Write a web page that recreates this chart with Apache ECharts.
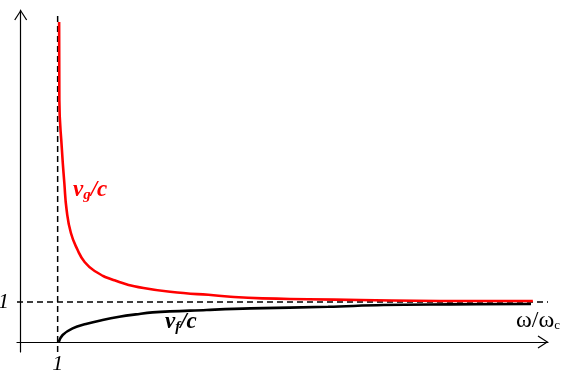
<!DOCTYPE html>
<html>
<head>
<meta charset="utf-8">
<script src="https://cdn.jsdelivr.net/npm/echarts@6/dist/echarts.min.js"></script>
<style>html,body{margin:0;padding:0;background:#fff;}#c{width:563px;height:371px;}</style>
</head>
<body>
<div id="c"></div>
<script>
// omega/omega_c (x) and velocity/c (y)
var redX = [1.04, 1.046, 1.116, 1.181, 1.243, 1.359, 1.541, 1.73, 2.0, 2.514, 3.324, 4.405, 5.08, 5.68, 6.54, 7.78, 9.19, 11.35, 13.86];
var redY = [8.0, 6.05, 4.8, 3.975, 3.3, 2.725, 2.3, 2.0, 1.775, 1.55, 1.35, 1.225, 1.18, 1.13, 1.09, 1.07, 1.05, 1.025, 1.025];
var blackX = [1.03, 1.135, 1.405, 1.765, 2.216, 2.668, 3.116, 3.568, 5.03, 6.22, 8.32, 9.81, 11.62, 13.81];
var blackY = [0.0, 0.175, 0.34, 0.45, 0.55, 0.63, 0.69, 0.74, 0.8, 0.84, 0.88, 0.925, 0.94, 0.95];
var xTicks = [1];
var yTicks = [1];
var refX = 1, refY = 1;
var xMin = -0.1, xMax = 14.27, yMin = -0.25, yMax = 8.3;

function zip(a, b) { return a.map(function (v, i) { return [v, b[i]]; }); }

var arrow = 'path://M6.5,0 L13,10 L11.9,10.7 L6.5,2.1 L1.1,10.7 L0,10 Z';
var labelFont = { color: '#000', fontFamily: 'Liberation Serif', fontStyle: 'italic', fontSize: 22 };

var chart = echarts.init(document.getElementById('c'), null, { renderer: 'canvas' });
chart.setOption({
  animation: false,
  backgroundColor: '#fff',
  grid: { left: 17, right: 15, top: 10, bottom: 19, containLabel: false, outerBoundsMode: 'none' },
  xAxis: {
    type: 'value', min: xMin, max: xMax,
    axisLine: { show: true, onZero: true, symbol: ['none', arrow], symbolSize: [13, 11], symbolOffset: [0, -5],
      lineStyle: { color: '#000', width: 1.2 } },
    axisTick: { show: false },
    splitLine: { show: false },
    axisLabel: Object.assign({ customValues: xTicks, margin: 1, formatter: function (v) { return String(v); } }, labelFont)
  },
  yAxis: {
    type: 'value', min: yMin, max: yMax,
    axisLine: { show: true, onZero: true, symbol: ['none', arrow], symbolSize: [13, 11], symbolOffset: [0, -5],
      lineStyle: { color: '#000', width: 1.2 } },
    axisTick: { show: false },
    splitLine: { show: false },
    axisLabel: Object.assign({ customValues: yTicks, margin: 8, formatter: function (v) { return String(v); } }, labelFont)
  },
  series: [
    { type: 'line', data: [[refX, yMin], [refX, 8.15]], symbol: 'none', silent: true,
      lineStyle: { color: '#000', width: 1.5, type: [6, 4] } },
    { type: 'line', data: [[xMin, refY], [xMax, refY]], symbol: 'none', silent: true,
      lineStyle: { color: '#000', width: 1.5, type: [6, 4] } },
    { type: 'line', name: 'vf', data: zip(blackX, blackY), symbol: 'none', smooth: 0.4,
      lineStyle: { color: '#000', width: 2.6 } },
    { type: 'line', name: 'vg', data: zip(redX, redY), symbol: 'none', smooth: 0.5,
      lineStyle: { color: '#ff0000', width: 2.6 } }
  ],
  graphic: [
    { type: 'text', x: 73, y: 203, style: {
      text: '{v|v}{s|g}{v|/c}', fill: '#ff0000', verticalAlign: 'bottom',
      rich: {
        v: { fill: '#ff0000', fontFamily: 'Liberation Serif', fontStyle: 'italic', fontWeight: 'bold', fontSize: 23 },
        s: { fill: '#ff0000', fontFamily: 'Liberation Serif', fontStyle: 'italic', fontWeight: 'bold', fontSize: 15, padding: [10, 0, 0, 0] }
      } } },
    { type: 'text', x: 165, y: 335, style: {
      text: '{v|v}{s|f}{v|/c}', fill: '#000', verticalAlign: 'bottom',
      rich: {
        v: { fill: '#000', fontFamily: 'Liberation Serif', fontStyle: 'italic', fontWeight: 'bold', fontSize: 23 },
        s: { fill: '#000', fontFamily: 'Liberation Serif', fontStyle: 'italic', fontWeight: 'bold', fontSize: 15, padding: [10, 0, 0, 0] }
      } } },
    { type: 'text', x: 516, y: 333, style: {
      text: '{v|ω/ω}{s|c}', fill: '#000', verticalAlign: 'bottom',
      rich: {
        v: { fill: '#000', fontFamily: 'Liberation Serif', fontSize: 24 },
        s: { fill: '#000', fontFamily: 'Liberation Serif', fontSize: 13, padding: [10, 0, 0, 0] }
      } } }
  ]
});
</script>
</body>
</html>
